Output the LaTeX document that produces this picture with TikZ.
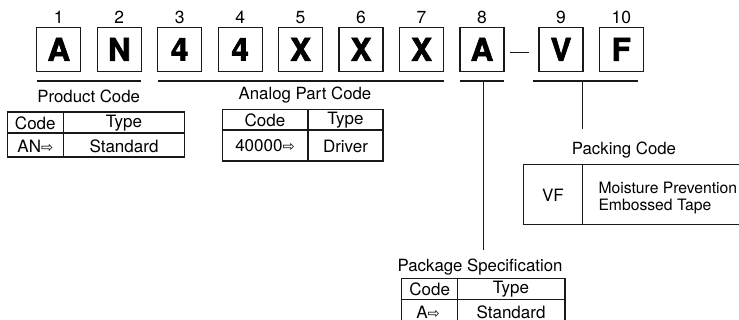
\documentclass[tikz,border=0pt]{standalone}
\usepackage{fontspec}
\setmainfont{TeX Gyre Heros}
\newfontfamily\arrowfont{DejaVu Sans}
\newfontfamily\heavyfont{TeX Gyre Heros}[BoldFeatures={FakeBold=2}]
\newcommand{\warr}{{\arrowfont\fontsize{14.5}{14.5}\selectfont ⇨}}
\begin{document}
\begin{tikzpicture}[x=1pt,y=-1pt,
  letterbox/.style={draw=black!90, line width=1.3pt, minimum width=44pt, minimum height=44pt, inner sep=0pt,
    font=\heavyfont\fontsize{31.5}{31.5}\bfseries\selectfont},
  num/.style={font=\fontsize{17.5}{17.5}\selectfont, anchor=base},
  lbl/.style={font=\fontsize{16.8}{18}\selectfont, inner sep=0pt},
  tab/.style={font=\fontsize{17}{18}\selectfont, inner sep=0pt},
  desc/.style={font=\fontsize{15.7}{18.7}\selectfont, inner sep=0pt, align=left, anchor=west},
  rule/.style={draw=black!90, line width=1.2pt},
]
\path[use as bounding box, clip] (0,0) rectangle (739,320);

% boxes
\foreach \i/\x/\t in {1/58.8/A, 2/119.3/N, 3/179.7/4, 4/240.2/4, 5/300.6/X, 6/361.1/X, 7/421.6/X, 8/482.0/A, 9/561.0/V, 10/621.3/F}{
  \node[letterbox] (b\i) at (\x,49.3) {\t};
  \node[num] (n\i) at (\x,24) {\i};
}

% dash between 8 and 9
\coordinate (d1) at (510,52.7);
\coordinate (d2) at (529.3,52.7);
\draw[rule] (d1) -- (d2);

% underlines
\coordinate (u1a) at (36.8,81); \coordinate (u1b) at (141.3,81);
\coordinate (u2a) at (157.7,81); \coordinate (u2b) at (443.6,81);
\coordinate (u3a) at (460,81); \coordinate (u3b) at (504,81);
\coordinate (u4a) at (533.3,81); \coordinate (u4b) at (638.3,81);
\draw[rule] (u1a) -- (u1b);
\draw[rule] (u2a) -- (u2b);
\draw[rule] (u3a) -- (u3b);
\draw[rule] (u4a) -- (u4b);

% verticals
\coordinate (v8a) at (483.3,81); \coordinate (v8b) at (483.3,250);
\coordinate (v9a) at (582.3,81); \coordinate (v9b) at (582.3,129.3);
\draw[rule] (v8a) -- (v8b);
\draw[rule] (v9a) -- (v9b);

% labels
\node[lbl] (lprod) at (88.7,96) {Product Code};
\node[lbl] (lanal) at (305,95) {Analog Part Code};
\node[lbl] (lpack) at (624,150) {Packing Code};
\node[lbl] (lspec) at (480,266.7) {Package Specification};

% Product Code table
\draw[rule] (7.3,112) rectangle (184.5,157);
\draw[rule] (7.3,133) -- (184.5,133);
\draw[rule] (63.3,112) -- (63.3,157);
\node[tab] (pc1) at (35.3,123) {Code};
\node[tab] (pt1) at (124,123) {Type};
\node[tab] (pc2) at (35.3,146) {AN\warr};
\node[tab] (pt2) at (124,146) {Standard};

% Analog Part Code table
\draw[rule] (222.5,109.3) rectangle (383,161);
\draw[rule] (222.5,130) -- (383,130);
\draw[rule] (308,109.3) -- (308,161);
\node[tab] (ac1) at (265,120) {Code};
\node[tab] (at1) at (345.5,120) {Type};
\node[tab] (ac2) at (265,146) {40000\warr};
\node[tab] (at2) at (345.5,146) {Driver};

% Packing Code table
\draw[rule] (523.3,164.3) rectangle (760,224.3);
\draw[rule] (582.3,164.3) -- (582.3,224.3);
\node[tab] (kc) at (553,195) {VF};
\node[desc] (kt1) at (598.3,188) {Moisture Prevention};
\node[desc] (kt2) at (598.3,206.7) {Embossed Tape};

% Package Specification table
\draw[rule] (401.7,278.3) rectangle (565,330);
\draw[rule] (401.7,299.3) -- (565,299.3);
\draw[rule] (457.7,278.3) -- (457.7,330);
\node[tab] (sc1) at (429.7,289.5) {Code};
\node[tab] (st1) at (511,289.5) {Type};
\node[tab] (sc2) at (428,312) {A\warr};
\node[tab] (st2) at (511,312) {Standard};
\end{tikzpicture}
\end{document}
